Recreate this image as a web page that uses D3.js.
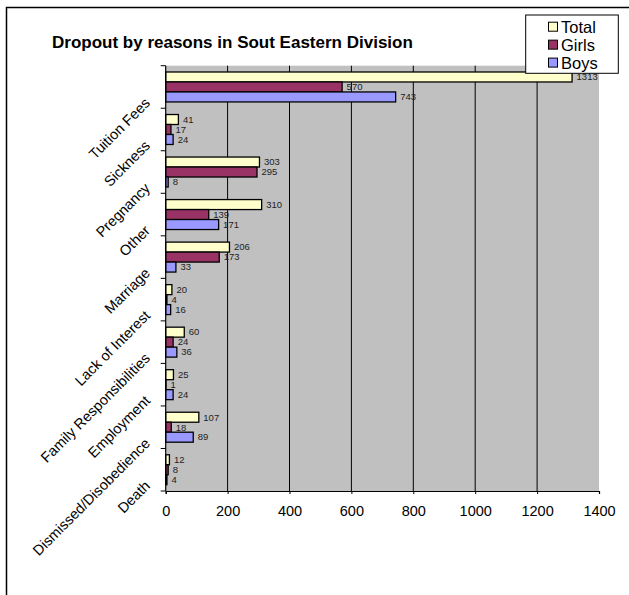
<!DOCTYPE html>
<html>
<head>
<meta charset="utf-8">
<script src="https://cdn.jsdelivr.net/npm/d3@7"></script>
<style>
  html, body { margin: 0; padding: 0; background: #fff; }
  svg { display: block; font-family: "Liberation Sans", Arial, sans-serif; }
</style>
</head>
<body>
<svg id="chart" width="629" height="595"></svg>
<script>
const categories = ["Tuition Fees", "Sickness", "Pregnancy", "Other", "Marriage",
  "Lack of Interest", "Family Responsibilities", "Employment", "Dismissed/Disobedience", "Death"];
const seriesNames = ["Total", "Girls", "Boys"];
const totalValues = [1313, 41, 303, 310, 206, 20, 60, 25, 107, 12];
const girlsValues = [570, 17, 295, 139, 173, 4, 24, 1, 18, 8];
const boysValues  = [743, 24, 8, 171, 33, 16, 36, 24, 89, 4];
const xTicks = [0, 200, 400, 600, 800, 1000, 1200, 1400];
const title = "Dropout by reasons in Sout Eastern Division";
const colors = { Total: "#FFFFCC", Girls: "#993366", Boys: "#9999FF" };

(function () {
const seriesValues = { Total: totalValues, Girls: girlsValues, Boys: boysValues };
const data = categories.map((c, i) => ({
  category: c,
  values: seriesNames.map(s => ({ series: s, value: seriesValues[s][i] }))
}));

const svg = d3.select("#chart");
const pLeft = 165.7, pRight = 599, pTop = 65.7, pBottom = 491;

// outer chart border
svg.append("rect").attr("x", 6.5).attr("y", 7.5).attr("width", 640).attr("height", 600)
  .attr("fill", "#fff").attr("stroke", "#000").attr("stroke-width", 1.5);

const x = d3.scaleLinear().domain([0, 1400]).range([pLeft, pRight]);
const y0 = d3.scaleBand().domain(categories).range([pTop, pBottom]).padding(0);
const y1 = d3.scaleBand().domain(seriesNames).range([0, y0.bandwidth()]).paddingInner(0).paddingOuter(0.63);

// plot area
svg.append("rect").attr("x", pLeft).attr("y", pTop).attr("width", pRight - pLeft).attr("height", pBottom - pTop)
  .attr("fill", "#C0C0C0");

// gridlines
svg.append("g").selectAll("line").data(xTicks.filter(t => t > 0 && t < 1400)).join("line")
  .attr("x1", d => x(d)).attr("x2", d => x(d)).attr("y1", pTop).attr("y2", pBottom)
  .attr("stroke", "#000").attr("stroke-width", 1);

// bars
const groups = svg.append("g").selectAll("g").data(data).join("g")
  .attr("transform", d => `translate(0,${y0(d.category)})`);
groups.selectAll("rect").data(d => d.values).join("rect")
  .attr("x", x(0)).attr("y", d => y1(d.series))
  .attr("width", d => x(d.value) - x(0)).attr("height", y1.bandwidth())
  .attr("fill", d => colors[d.series]).attr("stroke", "#000").attr("stroke-width", 1.3);
groups.selectAll("text").data(d => d.values).join("text")
  .attr("x", d => x(d.value) + 4.5).attr("y", d => y1(d.series) + y1.bandwidth() / 2 + 3.3)
  .attr("font-size", 9.5).attr("fill", "#222").text(d => d.value);

// x axis
const xAxis = d3.axisBottom(x).tickValues(xTicks).tickSize(3).tickPadding(12).tickFormat(d3.format("d"));
const gx = svg.append("g").attr("transform", `translate(0,${pBottom})`).call(xAxis);
gx.select(".domain").attr("stroke", "#000").attr("stroke-width", 1.2);
gx.selectAll(".tick line").attr("stroke", "#000");
gx.selectAll(".tick text").attr("font-size", 14.5).attr("fill", "#000")
  .attr("font-family", "'Liberation Sans', Arial, sans-serif");

// y axis line and ticks (at band boundaries)
svg.append("line").attr("x1", pLeft).attr("x2", pLeft).attr("y1", pTop).attr("y2", pBottom)
  .attr("stroke", "#000").attr("stroke-width", 1.2);
const boundaries = categories.map(c => y0(c)).concat([pBottom]);
svg.append("g").selectAll("line").data(boundaries).join("line")
  .attr("x1", pLeft - 5).attr("x2", pLeft).attr("y1", d => d).attr("y2", d => d)
  .attr("stroke", "#000").attr("stroke-width", 1);

// category labels
svg.append("g").selectAll("text").data(categories).join("text")
  .attr("transform", d => `translate(151,${y0(d) + y0.bandwidth() / 2 + 17}) rotate(-45)`)
  .attr("text-anchor", "end").attr("font-size", 14.5).attr("fill", "#000").text(d => d);

// title
svg.append("text").attr("x", 52).attr("y", 48).attr("font-size", 17).attr("font-weight", "bold")
  .attr("fill", "#000").text(title);

// legend
const lg = svg.append("g");
lg.append("rect").attr("x", 525.7).attr("y", 15).attr("width", 92.6).attr("height", 58.3)
  .attr("fill", "#fff").attr("stroke", "#000").attr("stroke-width", 1);
const ly = d3.scalePoint().domain(seriesNames).range([26.7, 62.6]);
lg.selectAll("rect.sw").data(seriesNames).join("rect").attr("class", "sw")
  .attr("x", 548.5).attr("y", d => ly(d) - 4.5).attr("width", 9).attr("height", 9)
  .attr("fill", d => colors[d]).attr("stroke", "#000").attr("stroke-width", 1);
lg.selectAll("text").data(seriesNames).join("text")
  .attr("x", 561).attr("y", d => ly(d) + 6).attr("font-size", 16.5).attr("fill", "#000").text(d => d);
})();
</script>
</body>
</html>
